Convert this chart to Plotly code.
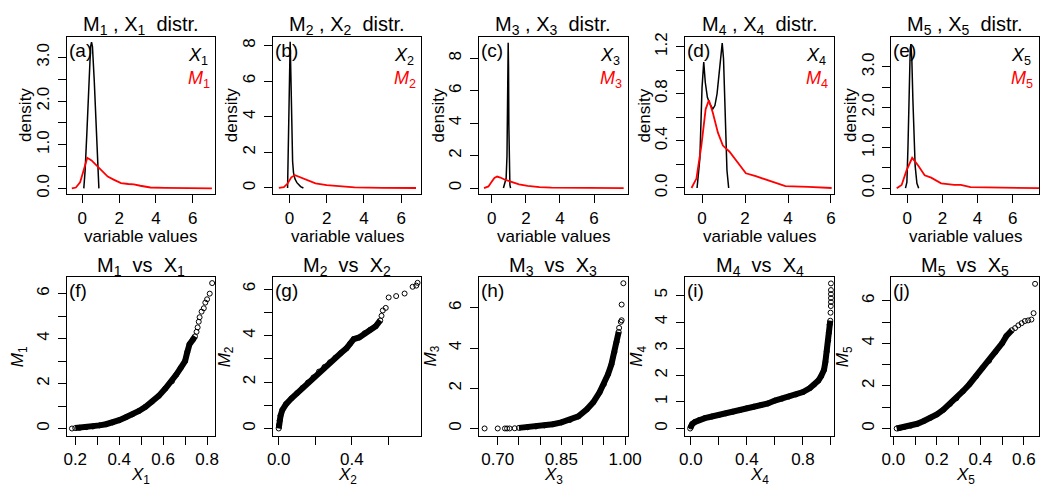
import plotly.graph_objects as go

FONT = "Liberation Sans, Arial, Helvetica, sans-serif"

#####################################
### ----- density curves (top row) ----- ###

dens_x1_x = [0.08, 0.15, 0.25, 0.35, 0.45, 0.5, 0.55, 0.65, 0.75, 0.85, 0.9]
dens_x1_y = [0.0, 0.4, 1.3, 2.45, 3.25, 3.35, 3.25, 2.45, 1.3, 0.3, 0.0]
dens_m1_x = [-0.57, -0.35, -0.12, 0.1, 0.27, 0.5, 0.85, 1.1, 1.38, 1.7, 2.1, 2.5, 2.8, 3.15, 3.7, 4.5, 5.5, 7.04]
dens_m1_y = [0.0, 0.02, 0.14, 0.48, 0.70, 0.64, 0.5, 0.38, 0.27, 0.2, 0.12, 0.1, 0.09, 0.06, 0.02, 0.01, 0.005, 0.0]

dens_x2_x = [-0.1, -0.05, 0.0, 0.04, 0.08, 0.12, 0.17, 0.22, 0.3, 0.4, 0.5, 0.6, 0.75]
dens_x2_y = [0.0, 3.5, 8.1, 8.2, 6.2, 4.0, 1.5, 0.85, 0.5, 0.3, 0.17, 0.08, 0.0]
dens_m2_x = [-0.57, -0.3, -0.1, 0.1, 0.3, 0.6, 1.0, 1.4, 2.0, 2.6, 3.5, 5.0, 6.8]
dens_m2_y = [0.0, 0.05, 0.25, 0.6, 0.72, 0.6, 0.4, 0.26, 0.16, 0.1, 0.04, 0.01, 0.0]

dens_x3_x = [0.68, 0.76, 0.84, 0.89, 0.93, 0.96, 0.98, 1.0, 1.03, 1.06, 1.1]
dens_x3_y = [0.0, 0.25, 0.6, 2.0, 5.5, 8.95, 7.5, 3.8, 1.0, 0.2, 0.0]
dens_m3_x = [-0.46, -0.2, 0.0, 0.15, 0.31, 0.5, 0.8, 1.2, 1.6, 2.1, 2.8, 3.5, 5.0, 7.74]
dens_m3_y = [0.0, 0.1, 0.4, 0.62, 0.71, 0.65, 0.5, 0.35, 0.23, 0.14, 0.06, 0.03, 0.01, 0.0]

dens_x4_x = [-0.23, -0.1, 0.0, 0.08, 0.15, 0.25, 0.35, 0.5, 0.6, 0.7, 0.8, 0.88, 0.94, 1.0, 1.08, 1.16, 1.24]
dens_x4_y = [0.0, 0.25, 0.85, 1.07, 0.9, 0.77, 0.72, 0.67, 0.7, 0.8, 0.98, 1.15, 1.23, 1.1, 0.6, 0.15, 0.0]
dens_m4_x = [-0.49, -0.26, -0.03, 0.17, 0.32, 0.5, 0.74, 0.97, 1.27, 1.66, 2.04, 2.5, 2.96, 3.42, 3.88, 4.95, 6.03]
dens_m4_y = [0.0, 0.08, 0.36, 0.67, 0.745, 0.64, 0.47, 0.36, 0.31, 0.22, 0.125, 0.1, 0.07, 0.04, 0.015, 0.01, 0.0]

dens_x5_x = [-0.1, -0.02, 0.04, 0.1, 0.17, 0.21, 0.26, 0.32, 0.38, 0.45, 0.55, 0.65]
dens_x5_y = [0.0, 0.15, 1.0, 2.5, 3.45, 3.56, 3.2, 2.2, 1.3, 0.55, 0.12, 0.0]
dens_m5_x = [-0.6, -0.32, -0.04, 0.28, 0.62, 0.99, 1.36, 1.93, 2.67, 3.05, 3.6, 4.54, 7.5]
dens_m5_y = [0.0, 0.08, 0.44, 0.75, 0.56, 0.32, 0.26, 0.12, 0.08, 0.08, 0.025, 0.015, 0.0]

#####################################
### ----- M vs X points (bottom row) ----- ###
# "dense" = the solid band of overlapping circles, "tail" = the isolated circles

qq_x1_dense = [0.20, 0.22, 0.25, 0.28, 0.31, 0.34, 0.37, 0.40, 0.43, 0.46, 0.49, 0.52, 0.55, 0.58, 0.61, 0.64, 0.66, 0.68, 0.70, 0.71, 0.72, 0.735, 0.745]
qq_m1_dense = [0.02, 0.03, 0.06, 0.09, 0.14, 0.19, 0.27, 0.37, 0.50, 0.63, 0.78, 0.97, 1.20, 1.45, 1.78, 2.10, 2.40, 2.70, 3.0, 3.4, 3.75, 3.95, 4.1]
qq_x1_tail = [0.185, 0.752, 0.757, 0.762, 0.766, 0.775, 0.785, 0.792, 0.80, 0.812, 0.823]
qq_m1_tail = [0.0, 4.3, 4.5, 4.75, 4.95, 5.2, 5.35, 5.6, 5.75, 6.0, 6.47]

qq_x2_dense = [0.0, 0.002, 0.005, 0.01, 0.02, 0.04, 0.07, 0.10, 0.13, 0.16, 0.19, 0.22, 0.25, 0.28, 0.31, 0.34, 0.37, 0.39, 0.41, 0.44, 0.47, 0.50, 0.53, 0.555]
qq_m2_dense = [0.0, 0.15, 0.35, 0.55, 0.8, 1.05, 1.3, 1.52, 1.75, 1.98, 2.2, 2.45, 2.65, 2.85, 3.05, 3.25, 3.45, 3.65, 3.85, 3.92, 4.1, 4.25, 4.4, 4.65]
qq_x2_tail = [0.562, 0.569, 0.585, 0.601, 0.642, 0.688, 0.732, 0.752, 0.759]
qq_m2_tail = [4.85, 5.08, 5.19, 5.64, 5.70, 5.81, 6.10, 6.15, 6.27]

qq_x3_dense = [0.75, 0.77, 0.79, 0.81, 0.83, 0.85, 0.87, 0.89, 0.91, 0.925, 0.94, 0.95, 0.96, 0.968, 0.975, 0.98, 0.985]
qq_m3_dense = [0.03, 0.06, 0.1, 0.15, 0.21, 0.3, 0.42, 0.6, 0.95, 1.3, 1.8, 2.2, 2.7, 3.2, 3.8, 4.3, 4.8]
qq_x3_tail = [0.669, 0.70, 0.717, 0.722, 0.728, 0.74, 0.986, 0.99, 0.992, 0.992, 0.996]
qq_m3_tail = [0.0, 0.0, 0.0, 0.0, 0.0, 0.01, 5.0, 5.3, 5.38, 6.16, 7.22]

qq_x4_dense = [-0.005, 0.0, 0.01, 0.03, 0.06, 0.1, 0.15, 0.2, 0.25, 0.3, 0.35, 0.4, 0.45, 0.5, 0.55, 0.6, 0.65, 0.7, 0.75, 0.8, 0.85, 0.88, 0.91, 0.93, 0.95, 0.96, 0.97, 0.98, 0.985, 0.99, 0.995]
qq_m4_dense = [0.0, 0.08, 0.17, 0.25, 0.32, 0.39, 0.45, 0.51, 0.57, 0.63, 0.69, 0.76, 0.82, 0.88, 0.94, 1.05, 1.12, 1.2, 1.28, 1.37, 1.52, 1.65, 1.8, 1.97, 2.2, 2.5, 2.9, 3.3, 3.6, 3.9, 4.05]
qq_x4_tail = [0.997, 0.999, 1.0, 1.0, 1.0, 1.0, 1.0]
qq_m4_tail = [4.35, 4.6, 4.75, 4.9, 5.05, 5.2, 5.45]

qq_x5_dense = [0.015, 0.03, 0.05, 0.08, 0.11, 0.14, 0.17, 0.2, 0.23, 0.26, 0.29, 0.32, 0.35, 0.38, 0.41, 0.44, 0.47, 0.5, 0.52, 0.545]
qq_m5_dense = [0.0, 0.03, 0.07, 0.13, 0.22, 0.35, 0.5, 0.66, 0.88, 1.15, 1.42, 1.75, 2.08, 2.45, 2.85, 3.18, 3.6, 4.0, 4.35, 4.62]
qq_x5_tail = [0.56, 0.575, 0.59, 0.605, 0.62, 0.635, 0.645, 0.652]
qq_m5_tail = [4.72, 4.85, 4.95, 5.05, 5.08, 5.12, 5.42, 6.8]

#####################################
### ----- tick values / labels ----- ###

dens_xticks = [[0, 2, 4, 6], [0, 2, 4, 6], [0, 2, 4, 6, 8], [0, 2, 4, 6], [0, 2, 4, 6]]
dens_yticks = [[0, 0.5, 1, 1.5, 2, 2.5, 3], [0, 2, 4, 6, 8], [0, 2, 4, 6, 8],
               [0, 0.2, 0.4, 0.6, 0.8, 1.0, 1.2], [0, 0.5, 1, 1.5, 2, 2.5, 3]]
dens_ylabels = [["0.0", "", "1.0", "", "2.0", "", "3.0"], ["0", "2", "4", "6", "8"], ["0", "2", "4", "6", "8"],
                ["0.0", "", "0.4", "", "0.8", "", "1.2"], ["0.0", "", "1.0", "", "2.0", "", "3.0"]]

qq_xticks = [[0.2, 0.3, 0.4, 0.5, 0.6, 0.7, 0.8], [0.0, 0.2, 0.4, 0.6],
             [0.70, 0.75, 0.80, 0.85, 0.90, 0.95, 1.00], [0.0, 0.2, 0.4, 0.6, 0.8, 1.0],
             [0.0, 0.1, 0.2, 0.3, 0.4, 0.5, 0.6]]
qq_xlabels = [["0.2", "", "0.4", "", "0.6", "", "0.8"], ["0.0", "", "0.4", ""],
              ["0.70", "", "", "0.85", "", "", "1.00"], ["0.0", "", "0.4", "", "0.8", ""],
              ["0.0", "", "0.2", "", "0.4", "", "0.6"]]
qq_yticks = [[0, 1, 2, 3, 4, 5, 6], [0, 1, 2, 3, 4, 5, 6], [0, 2, 4, 6], [0, 1, 2, 3, 4, 5], [0, 1, 2, 3, 4, 5, 6]]
qq_ylabels = [["0", "", "2", "", "4", "", "6"], ["0", "", "2", "", "4", "", "6"], ["0", "2", "4", "6"],
              ["0", "1", "2", "3", "4", "5"], ["0", "", "2", "", "4", "", "6"]]

dens_xranges = [[-0.85, 7.22], [-0.89, 7.09], [-0.75, 7.97], [-0.78, 6.13], [-0.9, 7.5]]
dens_yranges = [[-0.134, 3.48], [-0.35, 8.5], [-0.38, 9.34], [-0.053, 1.286], [-0.15, 3.75]]
qq_xranges = [[0.161, 0.837], [-0.032, 0.78], [0.656, 1.006], [-0.04, 1.02], [-0.009, 0.67]]
qq_yranges = [[-0.32, 6.74], [-0.31, 6.52], [-0.36, 7.53], [-0.27, 5.69], [-0.34, 7.12]]

dens_black = [(dens_x1_x, dens_x1_y), (dens_x2_x, dens_x2_y), (dens_x3_x, dens_x3_y), (dens_x4_x, dens_x4_y), (dens_x5_x, dens_x5_y)]
dens_red = [(dens_m1_x, dens_m1_y), (dens_m2_x, dens_m2_y), (dens_m3_x, dens_m3_y), (dens_m4_x, dens_m4_y), (dens_m5_x, dens_m5_y)]
qq_dense = [(qq_x1_dense, qq_m1_dense), (qq_x2_dense, qq_m2_dense), (qq_x3_dense, qq_m3_dense), (qq_x4_dense, qq_m4_dense), (qq_x5_dense, qq_m5_dense)]
qq_tail = [(qq_x1_tail, qq_m1_tail), (qq_x2_tail, qq_m2_tail), (qq_x3_tail, qq_m3_tail), (qq_x4_tail, qq_m4_tail), (qq_x5_tail, qq_m5_tail)]

tags_top = ["(a)", "(b)", "(c)", "(d)", "(e)"]
tags_bottom = ["(f)", "(g)", "(h)", "(i)", "(j)"]

#####################################
### ----- layout ----- ###

W, H = 1053, 487
col_left = [58, 269, 480, 691, 902]
box_w = 152
rows = [(33, 193), (277, 438)]  # top / bottom pixel of each row of boxes


def axis(domain, rng, vals, text, angle=0, standoff=0):
    return dict(domain=domain, range=rng, tickvals=vals, ticktext=text, tickangle=angle,
                showline=True, linecolor="black", linewidth=1, mirror=True,
                ticks="outside", ticklen=8, tickwidth=1, tickcolor="black",
                showgrid=False, zeroline=False, ticklabelstandoff=standoff,
                tickfont=dict(family=FONT, size=17, color="black"))


def note(k, text, x, y, size=17, **kw):
    ref = "" if k == 1 else str(k)
    return dict(text=text, x=x, y=y, xref="x%s domain" % ref, yref="y%s domain" % ref,
                showarrow=False, font=dict(family=FONT, size=size, color=kw.pop("color", "black")), **kw)


fig = go.Figure()
layout = {}
annotations = []

for r in range(2):
    top, bottom = rows[r]
    ydom = [1 - bottom / H, 1 - top / H]
    h_px = bottom - top
    for c in range(5):
        k = r * 5 + c + 1
        ref = "" if k == 1 else str(k)
        xdom = [col_left[c] / W, min(1.0, (col_left[c] + box_w) / W)]
        n = c + 1

        if r == 0:
            bx, by = dens_black[c]
            rx, ry = dens_red[c]
            fig.add_scatter(x=bx, y=by, mode="lines", line=dict(color="black", width=1.5),
                            xaxis="x" + ref, yaxis="y" + ref, showlegend=False)
            fig.add_scatter(x=rx, y=ry, mode="lines", line=dict(color="#ff0000", width=1.8),
                            xaxis="x" + ref, yaxis="y" + ref, showlegend=False)
            layout["xaxis" + ref] = axis(xdom, dens_xranges[c], dens_xticks[c], [str(v) for v in dens_xticks[c]])
            layout["yaxis" + ref] = axis(ydom, dens_yranges[c], dens_yticks[c], dens_ylabels[c], angle=-90, standoff=2)
            title = "M<sub>%d</sub> , X<sub>%d</sub>\u00a0\u00a0distr." % (n, n)
            xtitle = "variable values"
            ytitle = "density"
            tag = tags_top[c]
            annotations.append(note(k, "<i>X</i><sub>%d</sub>" % n, 0.80, 1 - 20 / h_px, size=18,
                                    xanchor="left", yanchor="middle"))
            annotations.append(note(k, "<i>M</i><sub>%d</sub>" % n, 0.80, 1 - 44 / h_px, size=18,
                                    xanchor="left", yanchor="middle", color="#ff0000"))
            xt_off, yt_off = 43, 42
        else:
            dx, dy = qq_dense[c]
            tx, ty = qq_tail[c]
            fig.add_scatter(x=dx, y=dy, mode="lines+markers", line=dict(color="black", width=6),
                            marker=dict(symbol="circle-open", size=5, color="black", line=dict(width=1)),
                            xaxis="x" + ref, yaxis="y" + ref, showlegend=False)
            fig.add_scatter(x=tx, y=ty, mode="markers",
                            marker=dict(symbol="circle-open", size=5, color="black", line=dict(width=1)),
                            xaxis="x" + ref, yaxis="y" + ref, showlegend=False)
            layout["xaxis" + ref] = axis(xdom, qq_xranges[c], qq_xticks[c], qq_xlabels[c])
            layout["yaxis" + ref] = axis(ydom, qq_yranges[c], qq_yticks[c], qq_ylabels[c], angle=-90, standoff=2)
            title = "M<sub>%d</sub>\u00a0\u00a0vs\u00a0\u00a0X<sub>%d</sub>" % (n, n)
            xtitle = "<i>X</i><sub>%d</sub>" % n
            ytitle = "<i>M</i><sub>%d</sub>" % n
            tag = tags_bottom[c]
            xt_off, yt_off = 41, 48

        layout["xaxis" + ref]["anchor"] = "y" + ref
        layout["yaxis" + ref]["anchor"] = "x" + ref

        annotations.append(note(k, title, 0.5, 1 + 11 / h_px, size=20, xanchor="center", yanchor="middle"))
        annotations.append(note(k, tag, 0.0, 1 - 14 / h_px, size=19, xanchor="left", yanchor="middle"))
        annotations.append(note(k, xtitle, 0.5, -xt_off / h_px, xanchor="center", yanchor="middle"))
        annotations.append(note(k, ytitle, -yt_off / box_w, 0.5, xanchor="center", yanchor="middle", textangle=-90))

fig.update_layout(width=W, height=H, margin=dict(l=0, r=0, t=0, b=0),
                  paper_bgcolor="white", plot_bgcolor="white", showlegend=False,
                  font=dict(family=FONT, size=17, color="black"),
                  annotations=annotations, **layout)

# the page's default 8px body margin would push the figure off the window
fig.write_html("out.html", config={"displayModeBar": False},
               post_script="document.body.style.margin='0px';document.body.style.overflow='hidden';")
